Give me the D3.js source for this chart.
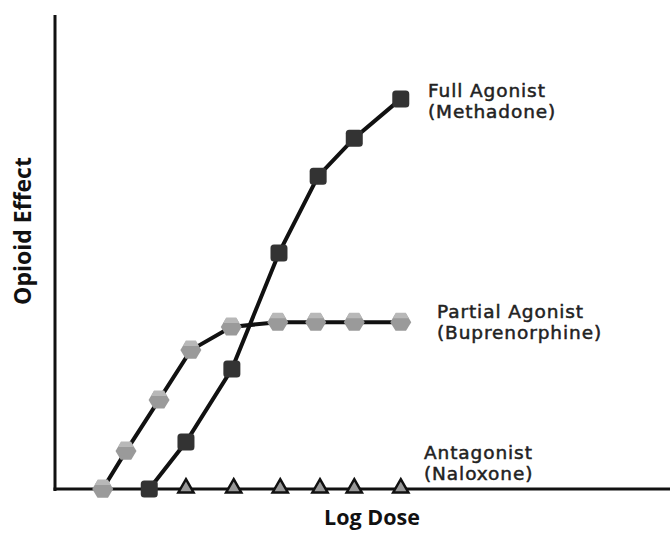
<!DOCTYPE html>
<html><head><meta charset="utf-8">
<script src="https://cdn.jsdelivr.net/npm/d3@7"></script>
<style>html,body{margin:0;padding:0;background:#fff;}</style>
</head><body>
<svg id="c" width="670" height="533"></svg>
<script>
// Log dose positions (arbitrary units) and effect (% of max axis)
const partialDose = [7.8, 11.6, 17.0, 22.2, 28.8, 36.4, 42.6, 48.9, 56.5];
const partialEffect = [0, 8.0, 18.8, 29.3, 34.2, 35.2, 35.2, 35.2, 35.2];
const fullDose = [15.4, 21.4, 28.9, 36.6, 43.0, 48.9, 56.5];
const fullEffect = [0, 9.9, 25.3, 49.8, 66.0, 74.0, 82.3];
const antDose = [21.4, 29.2, 36.8, 43.3, 48.9, 56.5];
const antEffect = [0, 0, 0, 0, 0, 0];
const seriesLabels = [["Full Agonist", "(Methadone)"], ["Partial Agonist", "(Buprenorphine)"], ["Antagonist", "(Naloxone)"]];
const xTitle = "Log Dose";
const yTitle = "Opioid Effect";

const svg = d3.select("#c");
const x = d3.scaleLinear().domain([0, 100]).range([55, 667]);
const y = d3.scaleLinear().domain([0, 100]).range([489, 15]);
const font = "'Open Sans', 'DejaVu Sans', sans-serif";
const labelFont = "'DejaVu Sans', sans-serif";

// axes
svg.append("line").attr("x1", x(0)).attr("x2", x(0)).attr("y1", y(100)).attr("y2", y(0) + 2)
  .attr("stroke", "#111").attr("stroke-width", 3);
svg.append("line").attr("x1", x(0) - 1.5).attr("x2", 670).attr("y1", y(0)).attr("y2", y(0))
  .attr("stroke", "#111").attr("stroke-width", 3);

const line = d3.line().x(d => x(d[0])).y(d => y(d[1]));
const partial = partialDose.map((d, i) => [d, partialEffect[i]]);
const full = fullDose.map((d, i) => [d, fullEffect[i]]);
const ant = antDose.map((d, i) => [d, antEffect[i]]);

svg.append("path").datum(partial).attr("d", line).attr("fill", "none").attr("stroke", "#111").attr("stroke-width", 4);
svg.append("path").datum(full).attr("d", line).attr("fill", "none").attr("stroke", "#111").attr("stroke-width", 4);

// hexagon markers
const hexR = 10.5;
const hexPts = d3.range(6).map(k => { const a = Math.PI / 3 * k; return [hexR * Math.cos(a), hexR * 0.95 * Math.sin(a)]; });
const hexG = svg.selectAll("g.hex").data(partial).join("g").attr("class", "hex")
  .attr("transform", d => `translate(${x(d[0])},${y(d[1])})`);
hexG.append("polygon").attr("points", hexPts.map(p => p.join(",")).join(" ")).attr("fill", "#9a9a9a");
hexG.append("polygon").attr("points", `${-5},${-9.5} ${5},${-9.5} ${8},${-4} ${-8},${-4}`).attr("fill", "#b8b8b8");

// square markers
svg.selectAll("rect.sq").data(full).join("rect").attr("class", "sq")
  .attr("x", d => x(d[0]) - 8.5).attr("y", d => y(d[1]) - 8.5).attr("width", 17).attr("height", 17)
  .attr("rx", 3.5).attr("fill", "#333");

// triangle markers
const tri = d3.symbol().type(d3.symbolTriangle).size(100);
svg.selectAll("path.tri").data(ant).join("path").attr("class", "tri")
  .attr("transform", d => `translate(${x(d[0])},${y(d[1]) - 1})`)
  .attr("d", tri).attr("fill", "#999").attr("stroke", "#111").attr("stroke-width", 2.5);

// series labels
const labelPos = [[428, 97], [437, 318], [424, 459]];
seriesLabels.forEach((lab, i) => {
  lab.forEach((s, j) => {
    svg.append("text").attr("x", labelPos[i][0]).attr("y", labelPos[i][1] + j * 21)
      .attr("font-family", labelFont).attr("font-size", 18.5).attr("fill", "#222")
      .attr("letter-spacing", 0.9)
      .attr("stroke", "#222").attr("stroke-width", 0.5)
      .text(s);
  });
});

// axis titles
svg.append("text").attr("x", 372).attr("y", 525).attr("text-anchor", "middle")
  .attr("font-family", font).attr("font-size", 21.5).attr("font-weight", "bold").attr("fill", "#111").text(xTitle);
svg.append("text").attr("transform", "translate(31,231) rotate(-90)").attr("text-anchor", "middle")
  .attr("font-family", font).attr("font-size", 23).attr("font-weight", "bold").attr("fill", "#111").text(yTitle);
</script>
</body></html>
